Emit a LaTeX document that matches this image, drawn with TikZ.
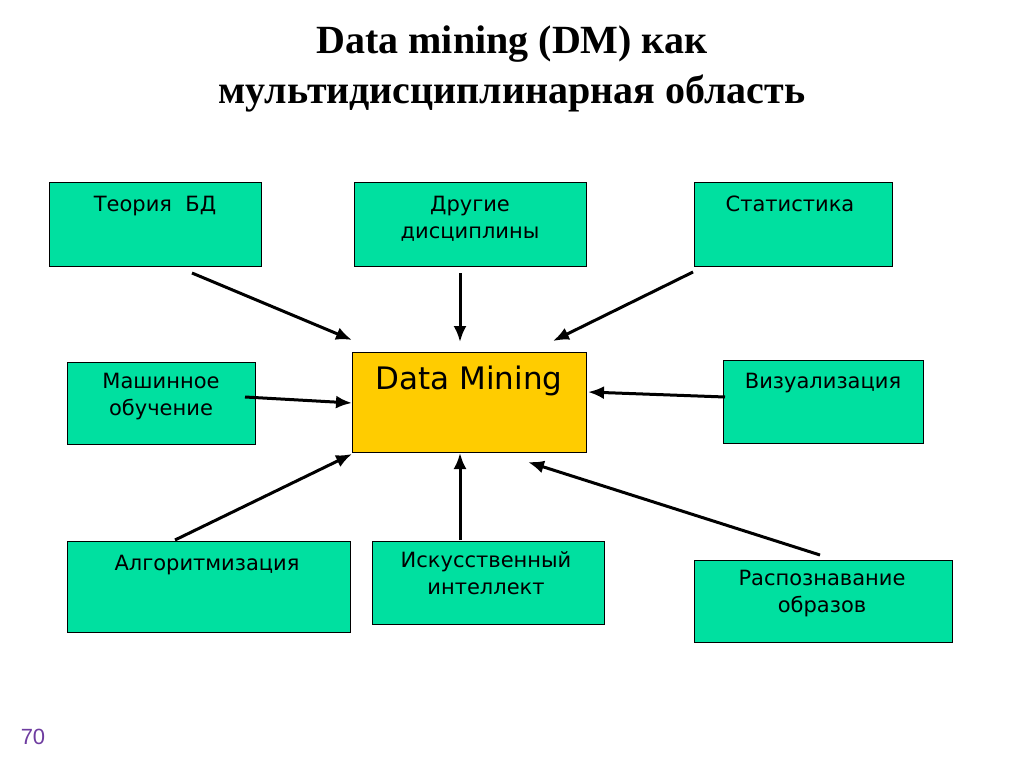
\documentclass[tikz,border=0pt]{standalone}
\usepackage{fontspec}
\setmainfont{Liberation Serif}
\newfontfamily\boxfont{DejaVu Sans}
\newfontfamily\numfont{Liberation Sans}
\usetikzlibrary{arrows.meta}
\definecolor{boxgreen}{RGB}{0,224,160}
\definecolor{dmgold}{RGB}{255,204,0}
\definecolor{numcol}{RGB}{110,60,160}
\begin{document}
\begin{tikzpicture}[x=1pt,y=-1pt,
  gbox/.style={draw=black,line width=1pt,fill=boxgreen},
  btext/.style={font=\boxfont\fontsize{21}{27}\selectfont,align=center,anchor=north,inner sep=0pt},
  arr/.style={line width=3pt,-{Latex[length=16pt,width=13pt]}}]
\useasboundingbox[fill=white] (0,0) rectangle (1024,767);
\node[font=\bfseries\fontsize{40}{50}\selectfont,align=center] (title) at (512,69) {Data mining (DM) как\\мультидисциплинарная область};
% boxes
\draw[gbox] (49,183) rectangle (261,266) coordinate (b1);
\node[btext] (t1) at (155,196) {Теория\ \ БД};
\draw[gbox] (354,183) rectangle (586,266);
\node[btext] (t2) at (470,196) {Другие\\дисциплины};
\draw[gbox] (694,183) rectangle (892,266);
\node[btext] (t3) at (790,196) {Статистика};
\draw[gbox] (67,362) rectangle (255,444);
\node[btext] (t4) at (161,373) {Машинное\\обучение};
\draw[line width=1pt,fill=dmgold] (352,352) rectangle (586,452);
\node[font=\boxfont\fontsize{31}{36}\selectfont,anchor=north,inner sep=0pt] (dm) at (469,366) {Data Mining};
\draw[gbox] (723,360) rectangle (923,443);
\node[btext] (t5) at (823,373) {Визуализация};
\draw[gbox] (67,541) rectangle (350,632);
\node[btext] (t6) at (207,555) {Алгоритмизация};
\draw[gbox] (372,541) rectangle (604,624);
\node[btext] (t7) at (486,551) {Искусственный\\интеллект};
\draw[gbox] (694,560) rectangle (952,642);
\node[btext] (t8) at (822,570) {Распознавание\\образов};
% arrow endpoints
\coordinate (s1) at (192,273); \coordinate (e1) at (352,340);
\coordinate (s2) at (460,273); \coordinate (e2) at (460,342);
\coordinate (s3) at (693,272); \coordinate (e3) at (553,341);
\coordinate (s4) at (245,397); \coordinate (e4) at (352,403);
\coordinate (s5) at (725,397); \coordinate (e5) at (588,392);
\coordinate (s6) at (175,540); \coordinate (e6) at (352,454);
\coordinate (s7) at (460,540); \coordinate (e7) at (460,453);
\coordinate (s8) at (820,555); \coordinate (e8) at (528,462);
\foreach \i in {1,...,8} {\draw[arr] (s\i) -- (e\i);}
\node[font=\numfont\fontsize{22}{26}\selectfont,text=numcol] (num) at (33,737) {70};
\end{tikzpicture}
\end{document}
